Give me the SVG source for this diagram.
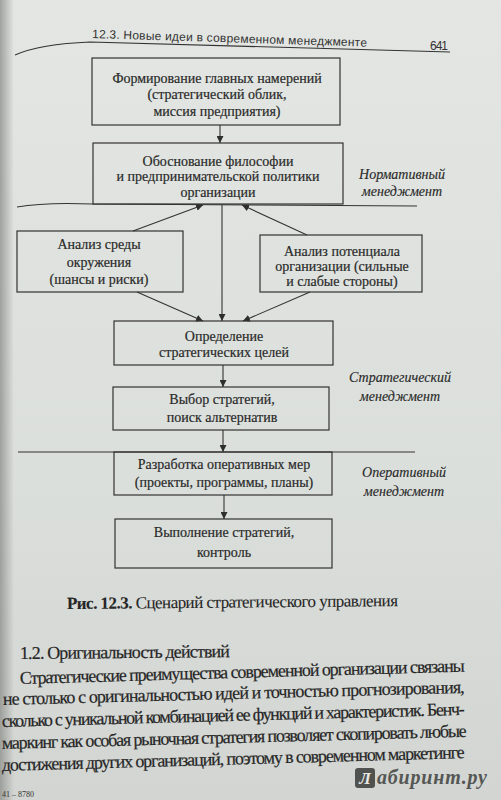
<svg xmlns="http://www.w3.org/2000/svg" width="501" height="800" viewBox="0 0 501 800">
<defs>
<linearGradient id="bg" x1="0" y1="0" x2="0" y2="1">
<stop offset="0" stop-color="#e3e6e2"/>
<stop offset="0.6" stop-color="#dbdfdb"/>
<stop offset="1" stop-color="#d2d5d1"/>
</linearGradient>
<linearGradient id="shade" x1="0" y1="0" x2="1" y2="0">
<stop offset="0" stop-color="#8f918d" stop-opacity="0.8"/>
<stop offset="1" stop-color="#8f918d" stop-opacity="0"/>
</linearGradient>
<marker id="ah" viewBox="0 0 10 10" refX="10" refY="5" markerWidth="7" markerHeight="7" markerUnits="userSpaceOnUse" orient="auto">
<path d="M0,0 L10,5 L0,10 z" fill="#2e2e2e"/>
</marker>
<style>
.box{fill:none;stroke:#333;stroke-width:1.2}
.ln{fill:none;stroke:#333;stroke-width:1.1}
.t{font-family:"Liberation Serif","DejaVu Serif",serif;font-size:14px;fill:#2a2a2a;stroke:#2a2a2a;stroke-width:0.2;text-anchor:middle}
.it{font-family:"Liberation Serif","DejaVu Serif",serif;font-size:14px;font-style:italic;fill:#2a2a2a;stroke:#2a2a2a;stroke-width:0.15;text-anchor:middle}
.body{font-family:"Liberation Serif","DejaVu Serif",serif;font-size:18px;fill:#262626;stroke:#262626;stroke-width:0.2}
.hdr{font-family:"Liberation Sans","DejaVu Sans",sans-serif;font-size:12px;fill:#333}
</style>
</defs>
<rect x="0" y="0" width="501" height="800" fill="url(#bg)"/>
<rect x="0" y="0" width="14" height="800" fill="url(#shade)"/>

<g id="header">
<text class="hdr" x="92" y="38" transform="rotate(1.8 92 38)" textLength="275" lengthAdjust="spacing">12.3. Новые идеи в современном менеджменте</text>
<text class="hdr" x="430" y="50" textLength="18">641</text>
<path class="ln" d="M15,55 Q40,44 90,42 L450,52" stroke-width="1.3"/>
</g>

<g id="connectors">
<line class="ln" x1="220" y1="125" x2="220" y2="143" marker-end="url(#ah)"/>
<path class="ln" d="M17,207 Q45,202 93,204 L417,206"/>
<line class="ln" x1="222" y1="205" x2="222" y2="321" marker-end="url(#ah)"/>
<line class="ln" x1="133" y1="231" x2="203" y2="205" marker-end="url(#ah)"/>
<line class="ln" x1="307" y1="235" x2="242" y2="205" marker-end="url(#ah)"/>
<line class="ln" x1="137" y1="292" x2="203" y2="321" marker-end="url(#ah)"/>
<line class="ln" x1="310" y1="292" x2="243" y2="321" marker-end="url(#ah)"/>
<line class="ln" x1="223" y1="365" x2="223" y2="387" marker-end="url(#ah)"/>
<line class="ln" x1="223" y1="430" x2="223" y2="452" marker-end="url(#ah)"/>
<line class="ln" x1="18" y1="452" x2="415" y2="452"/>
<line class="ln" x1="224" y1="495" x2="224" y2="519" marker-end="url(#ah)"/>
</g>

<g id="n1">
<rect class="box" x="92" y="58" width="248" height="67"/>
<text class="t" x="217" y="83">Формирование главных намерений</text>
<text class="t" x="217" y="99">(стратегический облик,</text>
<text class="t" x="217" y="116">миссия предприятия)</text>
</g>
<g id="n2">
<rect class="box" x="93" y="143" width="250" height="61"/>
<text class="t" x="218" y="166">Обоснование философии</text>
<text class="t" x="218" y="181">и предпринимательской политики</text>
<text class="t" x="218" y="197">организации</text>
</g>
<g id="lbl-norm">
<text class="it" x="402" y="179">Нормативный</text>
<text class="it" x="402" y="196">менеджмент</text>
</g>
<g id="n3">
<rect class="box" x="17" y="231" width="166" height="61"/>
<text class="t" x="99" y="249">Анализ среды</text>
<text class="t" x="99" y="267">окружения</text>
<text class="t" x="99" y="284">(шансы и риски)</text>
</g>
<g id="n4">
<rect class="box" x="260" y="235" width="162" height="57"/>
<text class="t" x="342" y="256">Анализ потенциала</text>
<text class="t" x="342" y="271">организации (сильные</text>
<text class="t" x="342" y="286">и слабые стороны)</text>
</g>
<g id="n5">
<rect class="box" x="114" y="321" width="219" height="44"/>
<text class="t" x="224" y="341">Определение</text>
<text class="t" x="224" y="357">стратегических целей</text>
</g>
<g id="n6">
<rect class="box" x="113" y="387" width="216" height="43"/>
<text class="t" x="222" y="404">Выбор стратегий,</text>
<text class="t" x="222" y="422">поиск альтернатив</text>
</g>
<g id="lbl-strat">
<text class="it" x="400" y="382">Стратегический</text>
<text class="it" x="400" y="401">менеджмент</text>
</g>
<g id="n7">
<rect class="box" x="114" y="452" width="218" height="43"/>
<text class="t" x="224" y="469">Разработка оперативных мер</text>
<text class="t" x="224" y="487">(проекты, программы, планы)</text>
</g>
<g id="lbl-oper">
<text class="it" x="404" y="477">Оперативный</text>
<text class="it" x="404" y="496">менеджмент</text>
</g>
<g id="n8">
<rect class="box" x="115" y="519" width="217" height="49"/>
<text class="t" x="224" y="537">Выполнение стратегий,</text>
<text class="t" x="224" y="557">контроль</text>
</g>

<g id="caption">
<text class="body" x="67" y="609" style="font-size:17px;stroke-width:0.1" transform="rotate(-0.5 67 609)" textLength="331" lengthAdjust="spacing"><tspan font-weight="bold">Рис. 12.3.</tspan> Сценарий стратегического управления</text>
</g>

<g id="text-body">
<text class="body" x="20" y="659" transform="rotate(-0.5 20 659)" textLength="210" lengthAdjust="spacing">1.2. Оригинальность действий</text>
<text class="body" x="20" y="684" transform="rotate(-1.6 20 684)" textLength="445" lengthAdjust="spacing">Стратегические преимущества современной организации связаны</text>
<text class="body" x="3" y="705" transform="rotate(-1.5 3 705)" textLength="462" lengthAdjust="spacing">не столько с оригинальностью идей и точностью прогнозирования,</text>
<text class="body" x="2" y="727" transform="rotate(-1.5 2 727)" textLength="463" lengthAdjust="spacing">сколько с уникальной комбинацией ее функций и характеристик. Бенч-</text>
<text class="body" x="2" y="749" transform="rotate(-1.5 2 749)" textLength="465" lengthAdjust="spacing">маркинг как особая рыночная стратегия позволяет скопировать любые</text>
<text class="body" x="2" y="771" transform="rotate(-1.6 2 771)" textLength="463" lengthAdjust="spacing">достижения других организаций, поэтому в современном маркетинге</text>
<text x="2" y="797" font-family="Liberation Serif, serif" font-size="8" fill="#333">41 – 8780</text>
</g>

<g id="watermark">
<rect x="355" y="768" width="20" height="20" rx="3" fill="#505250"/>
<text x="365" y="784" font-family="Liberation Serif, serif" font-size="17" font-weight="bold" font-style="italic" fill="#e8e8e4" text-anchor="middle">Л</text>
<text x="377" y="784" font-family="Liberation Serif, serif" font-size="20" font-weight="bold" font-style="italic" fill="#555755" textLength="110" lengthAdjust="spacing">абиринт.ру</text>
</g>
</svg>
